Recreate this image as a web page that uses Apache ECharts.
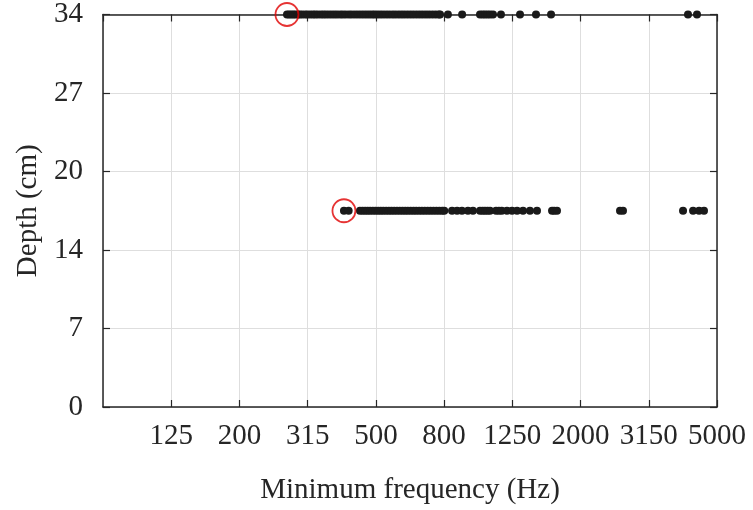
<!DOCTYPE html>
<html>
<head>
<meta charset="utf-8">
<script src="https://cdn.jsdelivr.net/npm/echarts@6/dist/echarts.min.js"></script>
<style>
  html, body { margin: 0; padding: 0; background: #ffffff; }
  #chart { width: 753px; height: 510px; }
</style>
</head>
<body>
<div id="chart"></div>
<script>
// Third-octave band labels along the frequency axis (log spacing, 0.2 decade apart)
const xTickLabels = ['125', '200', '315', '500', '800', '1250', '2000', '3150', '5000'];
const yTickLabels = ['0', '7', '14', '20', '27', '34'];

// Depths of the two sensor rows (cm)
const depthUpper = 34;
const depthLower = 17;

// Minimum frequency (Hz) recorded at the 34 cm row
const freqUpper = [
  275, 279, 283, 287, 291, 296, 300, 305, 311, 316, 322, 328, 333, 339,
  346, 352, 358, 365, 372, 379, 386, 394, 401, 409, 418, 426, 435, 444, 453, 462,
  471, 480, 489, 497, 506, 516, 526, 537, 548, 560, 571, 583, 595, 607, 620, 633, 646,
  660, 674, 688, 703, 718, 734, 750, 766, 773, 815, 897, 1012, 1030, 1047, 1065,
  1083, 1105, 1166, 1326, 1477, 1635, 4121, 4379
];

// Minimum frequency (Hz) recorded at the 17 cm row
const freqLower = [
  404, 417, 450, 458, 466, 474, 482, 491, 500, 509, 518, 527, 537, 547, 557, 567,
  578, 589, 600, 611, 622, 634, 646, 658, 671, 684, 697, 711, 725, 739, 754, 769,
  784, 795, 838, 867, 896, 933, 965, 1012, 1030, 1047, 1065, 1083, 1128, 1150,
  1172, 1214, 1256, 1300, 1353, 1418, 1487, 1646, 1670, 1702, 2604, 2657, 3985,
  4264, 4441, 4590
];

// Frequency axis runs from 10^1.9 to 10^3.7 Hz; positions are log10(Hz)
const logMin = 1.9;
const logMax = 3.7;
const logStep = 0.2;

const toPoints = (freqs, depth) => freqs.map(f => [Math.log10(f), depth]);
const lowest = (freqs, depth) => [[Math.log10(Math.min(...freqs)), depth]];

const serif = '"Liberation Serif", "DejaVu Serif", serif';
const axisColor = '#262626';
const gridColor = '#dedede';

const xLabel = v => {
  const i = Math.round((v - logMin) / logStep) - 1;
  return i >= 0 && i < xTickLabels.length ? xTickLabels[i] : '';
};
const yLabel = v => {
  const i = Math.round(v / 6.8);
  return yTickLabels[i] !== undefined ? yTickLabels[i] : '';
};

const chart = echarts.init(document.getElementById('chart'), null, { renderer: 'canvas' });

const baseX = {
  type: 'value',
  min: logMin,
  max: logMax,
  interval: logStep,
  axisLine: { show: true, onZero: false, lineStyle: { color: axisColor, width: 1.5 } },
  axisTick: { show: true, inside: true, length: 7, lineStyle: { color: axisColor, width: 1.2 } }
};
const baseY = {
  type: 'value',
  min: 0,
  max: 34,
  interval: 6.8,
  axisLine: { show: true, onZero: false, lineStyle: { color: axisColor, width: 1.5 } },
  axisTick: { show: true, inside: true, length: 7, lineStyle: { color: axisColor, width: 1.2 } }
};

chart.setOption({
  backgroundColor: '#ffffff',
  animation: false,
  grid: { left: 103, right: 36, top: 12, bottom: 102, containLabel: false },
  xAxis: [
    Object.assign({}, baseX, {
      position: 'bottom',
      name: 'Minimum frequency (Hz)',
      nameLocation: 'middle',
      nameGap: 69,
      nameTextStyle: { fontFamily: serif, fontSize: 29, color: axisColor },
      axisLabel: {
        show: true, margin: 15, fontFamily: serif, fontSize: 29, color: axisColor,
        showMinLabel: false, formatter: xLabel
      },
      splitLine: { show: true, lineStyle: { color: gridColor, width: 1 } }
    }),
    Object.assign({}, baseX, {
      position: 'top',
      axisLabel: { show: false },
      splitLine: { show: false }
    })
  ],
  yAxis: [
    Object.assign({}, baseY, {
      position: 'left',
      name: 'Depth (cm)',
      nameLocation: 'middle',
      nameGap: 60,
      nameTextStyle: { fontFamily: serif, fontSize: 29, color: axisColor },
      axisLabel: { show: true, margin: 20, fontFamily: serif, fontSize: 29, color: axisColor, formatter: yLabel },
      splitLine: { show: true, lineStyle: { color: gridColor, width: 1 } }
    }),
    Object.assign({}, baseY, {
      position: 'right',
      axisLabel: { show: false },
      splitLine: { show: false }
    })
  ],
  series: [
    {
      type: 'scatter',
      data: toPoints(freqUpper, depthUpper),
      symbol: 'circle',
      symbolSize: 8,
      itemStyle: { color: '#1a1a1a', opacity: 1 },
      clip: false,
      z: 3
    },
    {
      type: 'scatter',
      data: toPoints(freqLower, depthLower),
      symbol: 'circle',
      symbolSize: 8,
      itemStyle: { color: '#1a1a1a', opacity: 1 },
      clip: false,
      z: 3
    },
    {
      // lowest frequency in each row, ringed in red
      type: 'scatter',
      data: lowest(freqUpper, depthUpper).concat(lowest(freqLower, depthLower)),
      symbol: 'circle',
      symbolSize: 23,
      itemStyle: { color: 'transparent', borderColor: '#e00000', borderWidth: 1.8 },
      clip: false,
      z: 4
    }
  ]
});
</script>
</body>
</html>
